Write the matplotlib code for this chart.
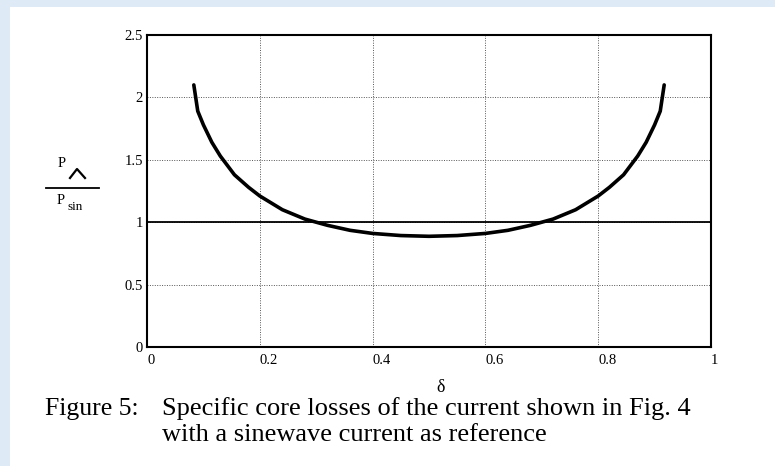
import matplotlib
matplotlib.use("Agg")
import matplotlib.pyplot as plt
from matplotlib.lines import Line2D
from matplotlib.patches import Rectangle

plt.rcParams["font.family"] = ["Liberation Serif", "DejaVu Serif"]

# data
delta = [0.083, 0.09, 0.10, 0.115, 0.13, 0.155, 0.18, 0.20, 0.24, 0.28, 0.32, 0.36, 0.40, 0.45, 0.50,
         0.55, 0.60, 0.64, 0.68, 0.72, 0.76, 0.80, 0.82, 0.845, 0.87, 0.885, 0.90, 0.91, 0.917]
ratio = [2.10, 1.89, 1.78, 1.64, 1.53, 1.38, 1.28, 1.21, 1.10, 1.025, 0.975, 0.935, 0.91, 0.893, 0.887,
         0.893, 0.91, 0.935, 0.975, 1.025, 1.10, 1.21, 1.28, 1.38, 1.53, 1.64, 1.78, 1.89, 2.10]
xticks = [0, 0.2, 0.4, 0.6, 0.8, 1]
xtick_labels = ["0", "0.2", "0.4", "0.6", "0.8", "1"]
yticks = [0, 0.5, 1, 1.5, 2, 2.5]
ytick_labels = ["0", "0.5", "1", "1.5", "2", "2.5"]
reference = 1.0

W, H = 775, 466
fig = plt.figure(figsize=(W / 100, H / 100), dpi=100, facecolor="#deebf7")
fig.patches.append(Rectangle((10 / W, 0), 1 - 10 / W, 1 - 7 / H, transform=fig.transFigure,
                             facecolor="white", edgecolor="none", zorder=-5))

ax = fig.add_axes([147 / W, 1 - 347 / H, (711 - 147) / W, (347 - 35) / H])
ax.set_zorder(2)
ax.set_xlim(0, 1)
ax.set_ylim(0, 2.5)

ax.grid(True, linestyle=(0, (1, 1.5)), color="#555555", linewidth=0.7)
ax.axhline(reference, color="black", linewidth=1.3)
ax.plot(delta, ratio, color="black", linewidth=2.6, solid_capstyle="round", solid_joinstyle="round")

ax.set_xticks(xticks)
ax.set_xticklabels(xtick_labels)
ax.set_yticks(yticks)
ax.set_yticklabels(ytick_labels)
ax.tick_params(length=0, labelsize=10.5, pad=5)
ax.tick_params(axis="y", pad=3)
for lbl in ax.get_xticklabels():
    lbl.set_horizontalalignment("left")
for s in ax.spines.values():
    s.set_linewidth(1.5)

fig.text(441 / W, 1 - 387 / H, "δ", fontsize=13, ha="center", va="center")

# y label as a fraction P^ / P_sin
fig.text(62 / W, 1 - 163 / H, "P", fontsize=10.5, ha="center", va="center")
fig.add_artist(Line2D([70 / W, 77 / W, 85 / W], [1 - 178 / H, 1 - 169 / H, 1 - 178 / H],
                      transform=fig.transFigure, color="black", linewidth=1.6))
fig.add_artist(Line2D([46 / W, 99 / W], [1 - 188 / H, 1 - 188 / H],
                      transform=fig.transFigure, color="black", linewidth=1.3))
fig.text(61 / W, 1 - 200 / H, "P", fontsize=10.5, ha="center", va="center")
fig.text(67 / W, 1 - 207 / H, "sin", fontsize=9.5, ha="left", va="center")

fig.text(45 / W, 1 - 409 / H, "Figure 5:", fontsize=18.5, ha="left", va="center")
fig.text(162 / W, 1 - 409 / H, "Specific core losses of the current shown in Fig. 4",
         fontsize=19, ha="left", va="center")
fig.text(162 / W, 1 - 435 / H, "with a sinewave current as reference",
         fontsize=19, ha="left", va="center")

fig.savefig("out.png", dpi=100, facecolor=fig.get_facecolor())
